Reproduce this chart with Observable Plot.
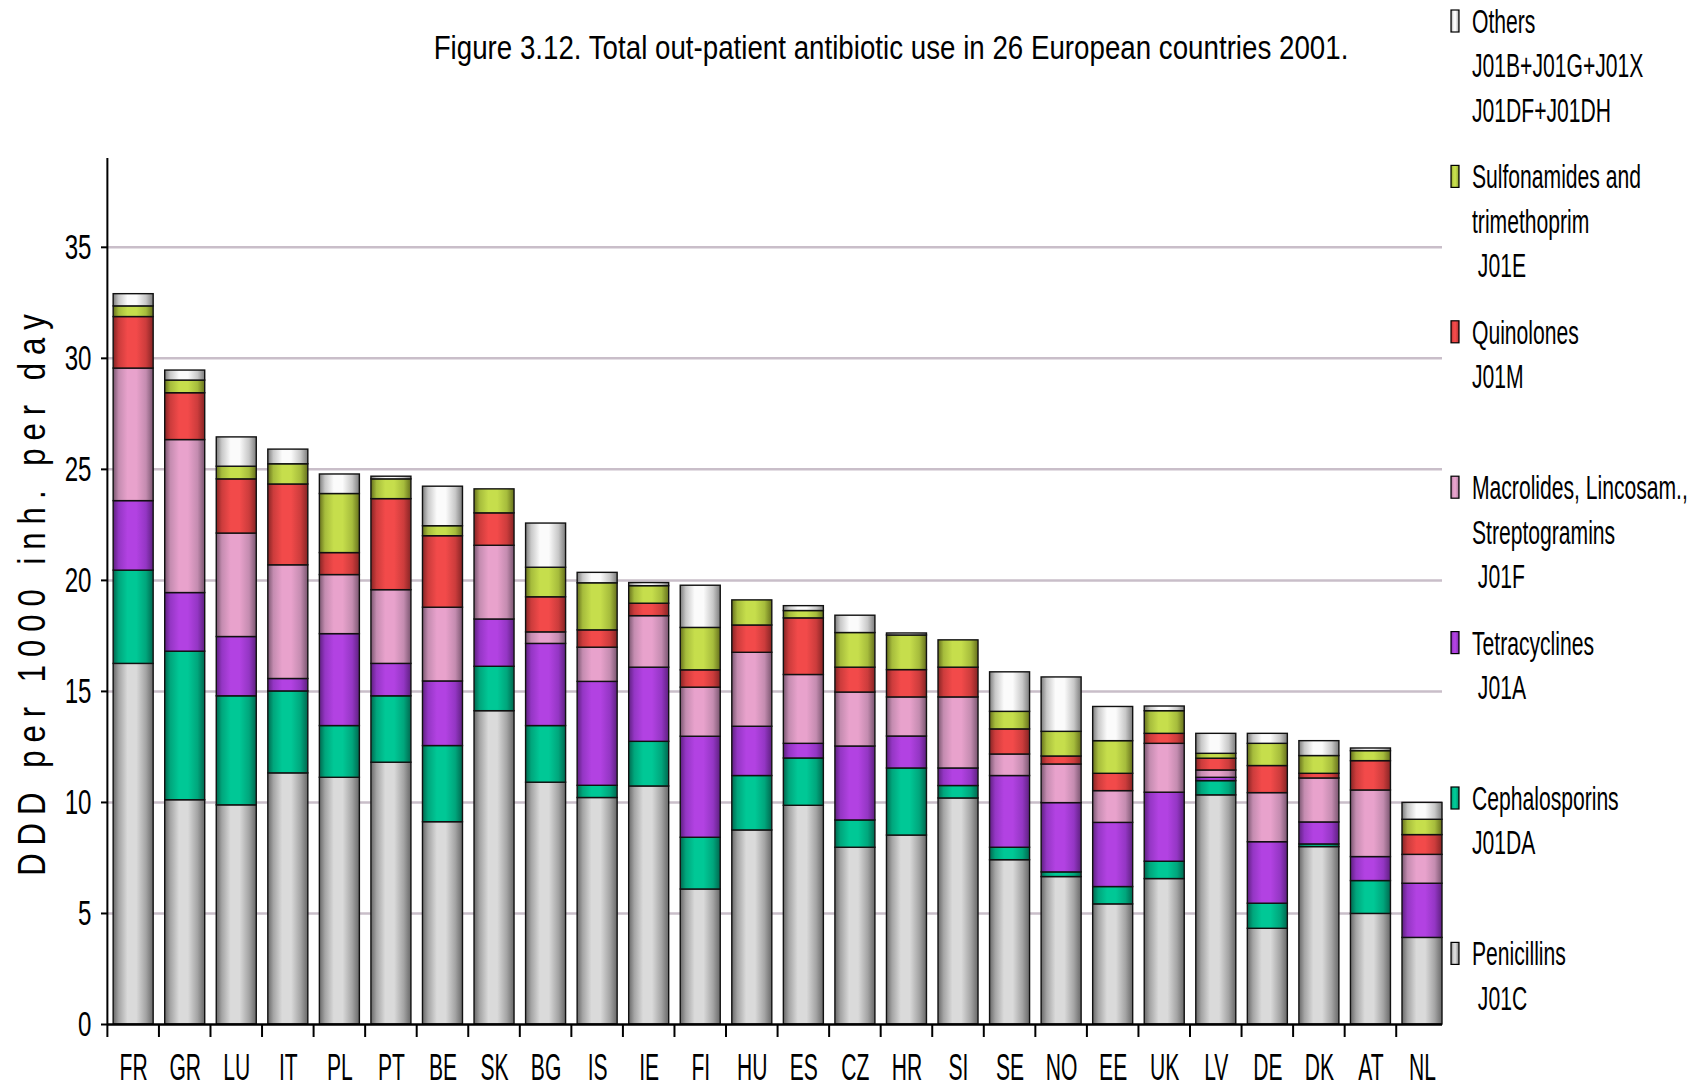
<!DOCTYPE html>
<html>
<head>
<meta charset="utf-8">
<script src="https://cdn.jsdelivr.net/npm/d3@7"></script>
<script src="https://cdn.jsdelivr.net/npm/@observablehq/plot@0.6"></script>
<style>
  body { margin: 0; background: #fff; }
  #wrap { position: relative; width: 1700px; height: 1087px; overflow: hidden; background: #fff; }
  #wrap > svg { position: absolute; left: 0; top: 0; }
</style>
</head>
<body>
<div id="wrap"></div>
<script>
const countries = ["FR","GR","LU","IT","PL","PT","BE","SK","BG","IS","IE","FI","HU","ES","CZ","HR","SI","SE","NO","EE","UK","LV","DE","DK","AT","NL"];

const penicillins    = [16.24,10.10, 9.87,11.31,11.11,11.79, 9.11,14.11,10.89,10.20,10.72, 6.08, 8.74, 9.85, 7.96, 8.51,10.18, 7.40, 6.64, 5.41, 6.55,10.32, 4.31, 7.99, 4.98, 3.90];
const cephalosporins = [ 4.20, 6.69, 4.91, 3.69, 2.33, 2.99, 3.43, 2.00, 2.55, 0.55, 2.01, 2.33, 2.45, 2.13, 1.23, 3.02, 0.56, 0.56, 0.21, 0.78, 0.78, 0.64, 1.13, 0.12, 1.48, 0.00];
const tetracyclines  = [ 3.13, 2.64, 2.67, 0.56, 4.14, 1.46, 2.91, 2.13, 3.70, 4.68, 3.34, 4.55, 2.22, 0.66, 3.33, 1.44, 0.79, 3.23, 3.12, 2.89, 3.11, 0.15, 2.77, 0.99, 1.08, 2.44];
const macrolides     = [ 5.97, 6.89, 4.66, 5.12, 2.66, 3.32, 3.32, 3.32, 0.52, 1.54, 2.32, 2.21, 3.33, 3.10, 2.43, 1.76, 3.20, 0.97, 1.74, 1.43, 2.20, 0.33, 2.21, 1.98, 3.00, 1.30];
const quinolones     = [ 2.32, 2.11, 2.44, 3.64, 0.99, 4.10, 3.22, 1.46, 1.58, 0.78, 0.56, 0.78, 1.23, 2.55, 1.12, 1.23, 1.34, 1.13, 0.36, 0.78, 0.45, 0.53, 1.22, 0.21, 1.32, 0.89];
const sulfonamides   = [ 0.48, 0.57, 0.57, 0.91, 2.66, 0.89, 0.45, 1.08, 1.33, 2.12, 0.79, 1.91, 1.13, 0.33, 1.56, 1.56, 1.23, 0.79, 1.11, 1.47, 1.02, 0.22, 1.00, 0.80, 0.45, 0.69];
const others         = [ 0.55, 0.45, 1.32, 0.66, 0.88, 0.12, 1.78, 0.00, 1.99, 0.47, 0.14, 1.90, 0.00, 0.22, 0.78, 0.09, 0.00, 1.78, 2.45, 1.54, 0.21, 0.90, 0.45, 0.67, 0.12, 0.76];

const categories = ["Penicillins","Cephalosporins","Tetracyclines","Macrolides","Quinolones","Sulfonamides","Others"];
const yTicks = [0,5,10,15,20,25,30,35];
const gridTicks = [5,10,15,20,25,30,35];

const titleText = "Figure 3.12. Total out-patient antibiotic use in 26 European countries 2001.";
const yLabelText = "DDD per 1000 inh. per day";
// legend, top to bottom
const legendEntries = [
  {cat: "Others",        lines: ["Others","J01B+J01G+J01X","J01DF+J01DH"]},
  {cat: "Sulfonamides",  lines: ["Sulfonamides and","trimethoprim"," J01E"]},
  {cat: "Quinolones",    lines: ["Quinolones","J01M"]},
  {cat: "Macrolides",    lines: ["Macrolides, Lincosam.,","Streptogramins"," J01F"]},
  {cat: "Tetracyclines", lines: ["Tetracyclines"," J01A"]},
  {cat: "Cephalosporins",lines: ["Cephalosporins","J01DA"]},
  {cat: "Penicillins",   lines: ["Penicillins"," J01C"]}
];

// colour ramps (edge, mid, centre) per category
const ramps = {
  Penicillins:   ["#686868","#a4a4a4","#dadada"],
  Cephalosporins:["#00684f","#00a67c","#00c896"],
  Tetracyclines: ["#5e2080","#9436c4","#b242e2"],
  Macrolides:    ["#7a5670","#c48cb0","#e8a2cc"],
  Quinolones:    ["#862424","#cc3c3c","#f24a4a"],
  Sulfonamides:  ["#66701c","#a6bc3c","#c6de4c"],
  Others:        ["#7c7c7c","#c8c8c8","#fbfbfb"]
};

const series = [penicillins, cephalosporins, tetracyclines, macrolides, quinolones, sulfonamides, others];
const data = [];
categories.forEach((c, j) => countries.forEach((k, i) => {
  if (series[j][i] > 0) data.push({country: k, cat: c, value: series[j][i]});
}));

const FONT = '"Liberation Sans",Arial,sans-serif';
const gradId = c => "grad-" + c;

const plot = Plot.plot({
  width: 1700,
  height: 1087,
  marginLeft: 108,
  marginRight: 258,
  marginTop: 158,
  marginBottom: 63,
  style: {fontFamily: FONT, background: "transparent", color: "black"},
  x: {domain: countries, paddingInner: 0.224, paddingOuter: 0.05, align: 1, round: false, label: null},
  y: {domain: [0, 39], label: null},
  color: {domain: categories, range: categories.map(c => `url(#${gradId(c)})`)},
  marks: [
    Plot.ruleY(gridTicks, {stroke: "#c9bec9", strokeWidth: 2.5}),
    Plot.barY(data, {x: "country", y: "value", fill: "cat", stroke: "#111", strokeWidth: 1.4}),
    Plot.ruleY([0], {stroke: "black", strokeWidth: 2.5}),
    Plot.axisY({ticks: yTicks, tickSize: 7, tickPadding: 10, fontSize: 35, label: null, stroke: "black", strokeWidth: 2}),
    Plot.axisX({tickSize: 0, tickPadding: 29, fontSize: 37, label: null})
  ]
});

const svg = d3.select(plot);
// gradients for cylinder-like bars
const defs = svg.insert("defs", ":first-child");
for (const c of categories) {
  const [e, m, ctr] = ramps[c];
  const g = defs.append("linearGradient").attr("id", gradId(c)).attr("x1", 0).attr("x2", 1).attr("y1", 0).attr("y2", 0);
  [[0, e], [0.14, m], [0.36, ctr], [0.58, ctr], [0.82, m], [1, e]].forEach(([o, col]) =>
    g.append("stop").attr("offset", o).attr("stop-color", col));
}

// horizontal squeeze for condensed glyphs (keeps anchor point)
function squeeze(sel, sx) {
  sel.each(function() {
    const t = this.getAttribute("transform") || "";
    this.setAttribute("transform", `${t} scale(${sx},1)`);
  });
}
squeeze(svg.selectAll('g[aria-label="y-axis tick label"] text'), 0.69);
squeeze(svg.selectAll('g[aria-label="x-axis tick label"] text'), 0.57);

// axis line and category-boundary ticks using the plot's scales
const xs = plot.scale("x"), ys = plot.scale("y");
const gap = xs.step - xs.bandwidth;
const y0 = ys.apply(0), yTop = ys.apply(39);
const axisG = svg.append("g").attr("stroke", "black").attr("stroke-width", 2);
const xLeft = xs.apply(countries[0]) - gap / 2;
axisG.append("line").attr("x1", xLeft).attr("x2", xLeft).attr("y1", yTop).attr("y2", y0);
for (const c of countries) {
  const xt = xs.apply(c) - gap / 2;
  axisG.append("line").attr("x1", xt).attr("x2", xt).attr("y1", y0).attr("y2", y0 + 13);
}

const wrap = document.getElementById("wrap");
wrap.appendChild(plot);

// overlay: title, y label, legend
const ov = d3.select(wrap).append("svg").attr("width", 1700).attr("height", 1087)
  .style("font-family", FONT).style("pointer-events", "none");

ov.append("text").attr("transform", "translate(891,59) scale(0.84,1)")
  .attr("text-anchor", "middle").attr("font-size", 33).attr("fill", "black").text(titleText);

ov.append("text").attr("transform", "translate(45,595) rotate(-90) scale(0.82,1)")
  .attr("text-anchor", "middle").attr("font-size", 38).attr("fill", "black")
  .attr("textLength", 685).attr("lengthAdjust", "spacing").text(yLabelText);

legendEntries.forEach((entry, i) => {
  const base = 33 + 155.4 * i;
  ov.append("rect").attr("x", 1451).attr("y", base - 23).attr("width", 8).attr("height", 22)
    .attr("fill", `url(#${gradId(entry.cat)})`).attr("stroke", "black").attr("stroke-width", 1.2);
  entry.lines.forEach((line, k) => {
    ov.append("text").attr("transform", `translate(1472,${base + 44.4 * k}) scale(0.64,1)`)
      .attr("font-size", 33).attr("fill", "black").style("white-space", "pre").text(line);
  });
});
</script>
</body>
</html>
